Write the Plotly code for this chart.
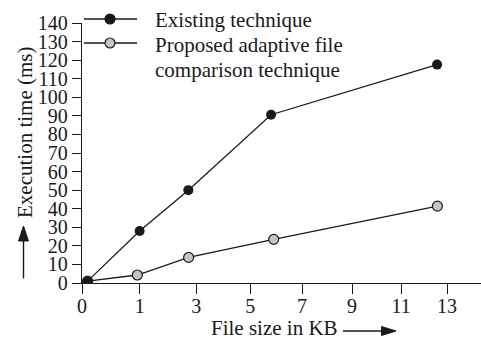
import plotly.graph_objects as go

# x axis: drawn tick labels and where they sit along the (hand-drawn) axis, in axis units
x_tick_labels = ["0", "1", "3", "5", "7", "9", "11", "13"]
x_tick_pos = [0, 1.105, 2.192, 3.228, 4.219, 5.178, 6.118, 7.0]

# data (x in axis units, y in ms)
existing_x = [0.107, 1.105, 2.039, 3.625, 6.808]
existing_y = [1, 28, 50, 90.6, 117.6]
proposed_x = [0.107, 1.061, 2.044, 3.675, 6.814]
proposed_y = [1, 4.3, 13.8, 23.5, 41.4]

y_ticks = list(range(0, 141, 10))

series_names = ["Existing technique", "Proposed adaptive file comparison technique"]
legend_lines = [["Existing technique"], ["Proposed adaptive file", "comparison technique"]]

FONT = "Liberation Serif"
INK = "#1a1a1a"
GREY = "#c4c4c4"

W, H = 481, 341
L, R, T, B = 82, 0, 23, 58
PW, PH = W - L - R, H - T - B


def px(x):
    return (x - L) / PW


def py(y):
    return (H - B - y) / PH


def path(points):
    return "M " + " L ".join(f"{px(a):.5f},{py(b):.5f}" for a, b in points) + " Z"


fig = go.Figure()
fig.add_trace(go.Scatter(
    x=proposed_x, y=proposed_y, mode="lines+markers",
    name=series_names[1],
    line=dict(color=INK, width=1.3),
    marker=dict(size=10, color=GREY, line=dict(color=INK, width=1.2)),
))
fig.add_trace(go.Scatter(
    x=existing_x, y=existing_y, mode="lines+markers",
    name=series_names[0],
    line=dict(color=INK, width=1.3),
    marker=dict(size=10, color=INK),
))

fig.update_layout(
    width=W, height=H,
    margin=dict(l=L, r=R, t=T, b=B),
    paper_bgcolor="white", plot_bgcolor="white",
    font=dict(family=FONT, size=21, color=INK),
    showlegend=False,
    xaxis=dict(
        range=[0, 7.65], tickmode="array", tickvals=x_tick_pos, ticktext=x_tick_labels,
        showgrid=False, zeroline=False, showline=True, linecolor=INK, linewidth=1.3,
        ticks="outside", ticklen=10, tickwidth=1.3, tickcolor=INK,
        tickfont=dict(family=FONT, size=20, color=INK), ticklabelstandoff=-5,
    ),
    yaxis=dict(
        range=[0, 140], tickmode="array", tickvals=y_ticks,
        showgrid=False, zeroline=False, showline=True, linecolor=INK, linewidth=1.3,
        ticks="outside", ticklen=9, tickwidth=1.3, tickcolor=INK,
        tickfont=dict(family=FONT, size=20, color=INK),
    ),
)

# manual legend (long line samples with a centred marker)
legend_rows = [(19, INK), (43, GREY)]
for (ly, fill) in legend_rows:
    fig.add_shape(type="line", xref="paper", yref="paper",
                  x0=px(84), x1=px(137), y0=py(ly), y1=py(ly),
                  line=dict(color=INK, width=1.3))
    fig.add_shape(type="circle", xref="paper", yref="paper",
                  x0=px(105), x1=px(115), y0=py(ly + 5), y1=py(ly - 5),
                  fillcolor=fill, line=dict(color=INK, width=1.2))
text_rows = [legend_lines[0][0], legend_lines[1][0], legend_lines[1][1]]
for txt, cy in zip(text_rows, [19.5, 44.5, 69.5]):
    fig.add_annotation(text=txt, xref="paper", yref="paper",
                       x=px(153), y=py(cy), xanchor="left", yanchor="middle",
                       showarrow=False, font=dict(family=FONT, size=21, color=INK))

# axis titles
fig.add_annotation(text="File size in KB", xref="paper", yref="paper",
                   x=px(274), y=py(328), xanchor="center", yanchor="middle",
                   showarrow=False, font=dict(family=FONT, size=21, color=INK))
fig.add_annotation(text="Execution time (ms)", xref="paper", yref="paper",
                   x=px(25), y=py(133), textangle=-90, xanchor="center", yanchor="middle",
                   showarrow=False, font=dict(family=FONT, size=21, color=INK))

# arrows next to the axis titles
fig.add_shape(type="line", xref="paper", yref="paper",
              x0=px(343), x1=px(385), y0=py(331), y1=py(331),
              line=dict(color=INK, width=1.4))
fig.add_shape(type="path", xref="paper", yref="paper",
              path=path([(381.5, 326.5), (396, 331), (381.5, 335.5)]),
              fillcolor=INK, line=dict(color=INK, width=1))
fig.add_shape(type="line", xref="paper", yref="paper",
              x0=px(23.5), x1=px(23.5), y0=py(278.5), y1=py(237),
              line=dict(color=INK, width=1.4))
fig.add_shape(type="path", xref="paper", yref="paper",
              path=path([(18.5, 241), (23.5, 226), (28.5, 241)]),
              fillcolor=INK, line=dict(color=INK, width=1))

fig.write_html("out.html", config={"displayModeBar": False},
               post_script="document.body.style.margin='0';")
